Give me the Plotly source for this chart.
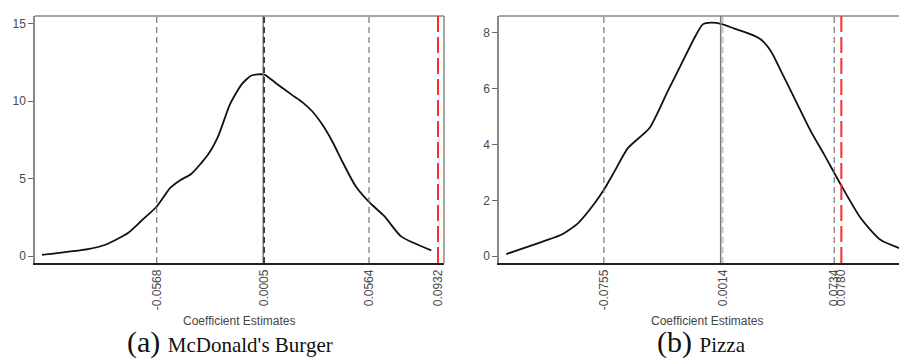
import plotly.graph_objects as go

# ---- Panel (a) McDonald's Burger ----
burger_x = [-0.1180, -0.0934, -0.0842, -0.0721, -0.0651, -0.0568, -0.0496, -0.0443, -0.0384,
            -0.0294, -0.0240, -0.0178, -0.0116, -0.0063, 0.0005, 0.0066, 0.0155, 0.0208,
            0.0261, 0.0315, 0.0368, 0.0421, 0.0493, 0.0564, 0.0646, 0.0735, 0.0896]
burger_y = [0.08, 0.45, 0.73, 1.49, 2.26, 3.20, 4.40, 4.90, 5.30,
            6.55, 7.74, 9.78, 11.07, 11.66, 11.72, 11.18, 10.39, 9.94,
            9.35, 8.49, 7.41, 6.12, 4.50, 3.49, 2.57, 1.27, 0.37]
burger_ci = [-0.0568, 0.0564]
burger_mean = 0.0005
burger_actual = 0.0932
burger_ticks = [-0.0568, 0.0005, 0.0564, 0.0932]
burger_ticktext = ["-0.0568", "0.0005", "0.0564", "0.0932"]
burger_yticks = [0, 5, 10, 15]

# ---- Panel (b) Pizza ----
pizza_x = [-0.1386, -0.1202, -0.1031, -0.0923, -0.0815, -0.0755, -0.0686, -0.0600, -0.0460,
           -0.0342, -0.0256, -0.0169, -0.0116, -0.0062, 0.0002, 0.0088, 0.0196, 0.0260,
           0.0325, 0.0390, 0.0497, 0.0583, 0.0670, 0.0777, 0.0906, 0.1035, 0.1219]
pizza_y = [0.08, 0.43, 0.77, 1.18, 1.90, 2.38, 3.04, 3.87, 4.59,
           5.91, 6.86, 7.82, 8.30, 8.36, 8.32, 8.15, 7.94, 7.76,
           7.34, 6.63, 5.43, 4.47, 3.63, 2.56, 1.36, 0.58, 0.17]
pizza_ci = [-0.0755, 0.0734]
pizza_mean = 0.0014
pizza_actual = 0.0780
pizza_ticks = [-0.0755, 0.0014, 0.0734, 0.0780]
pizza_ticktext = ["-0.0755", "0.0014", "0.0734", "0.0780"]
pizza_yticks = [0, 2, 4, 6, 8]

zero_line = 0.0
x_title = "Coefficient Estimates"
captions = [("(a)", "McDonald's Burger"), ("(b)", "Pizza")]

W, H = 907, 362
def px_x(p):
    return p / W
def px_y(p):
    return 1 - p / H

dom1 = [px_x(27), px_x(436)]
dom2 = [px_x(491), px_x(906.5)]
ydom = [px_y(255), px_y(8)]

fig = go.Figure()
fig.add_trace(go.Scatter(x=burger_x, y=burger_y, mode="lines",
                         line=dict(color="#111111", width=1.8, shape="spline", smoothing=0.6),
                         xaxis="x", yaxis="y", showlegend=False, hoverinfo="skip"))
fig.add_trace(go.Scatter(x=pizza_x, y=pizza_y, mode="lines",
                         line=dict(color="#111111", width=1.8, shape="spline", smoothing=0.6),
                         xaxis="x2", yaxis="y2", showlegend=False, hoverinfo="skip"))

tickfont = dict(family="Liberation Sans, Arial, sans-serif", size=12, color="#4a4a4a")

common_x = dict(showgrid=False, zeroline=False, showline=True, linecolor="#222222", linewidth=1.5,
                ticks="", tickangle=-90, tickfont=tickfont, fixedrange=True)
common_y = dict(showgrid=False, zeroline=False, showline=True, linecolor="#888888", linewidth=1.5,
                ticks="outside", ticklen=5, tickcolor="#666666", tickfont=tickfont)

fig.update_layout(
    width=W, height=H, margin=dict(l=0, r=0, t=0, b=0),
    paper_bgcolor="white", plot_bgcolor="white",
    xaxis=dict(domain=dom1, range=[-0.1217, 0.0964], tickvals=burger_ticks, ticktext=burger_ticktext,
               anchor="y", **common_x),
    yaxis=dict(domain=ydom, range=[-0.45, 15.5], tickvals=burger_yticks, anchor="x", **common_y),
    xaxis2=dict(domain=dom2, range=[-0.1433, 0.1253], tickvals=pizza_ticks, ticktext=pizza_ticktext,
                anchor="y2", **common_x),
    yaxis2=dict(domain=ydom, range=[-0.24, 8.6], tickvals=pizza_yticks, anchor="x2", **common_y),
)

shapes = []
# frames (top and right edges in gray)
for xr, yr in [("x domain", "y domain"), ("x2 domain", "y2 domain")]:
    shapes.append(dict(type="line", xref=xr, yref=yr, x0=0, x1=1, y0=1, y1=1,
                       line=dict(color="#888888", width=1.5)))
    shapes.append(dict(type="line", xref=xr, yref=yr, x0=1, x1=1, y0=0, y1=1,
                       line=dict(color="#888888", width=1.5)))

def vlines(xr, yr, ci, mean, actual, mean_color):
    out = []
    out.append(dict(type="line", xref=xr, yref=yr, x0=zero_line, x1=zero_line, y0=0, y1=1,
                    line=dict(color="#777777", width=1.5)))
    for v in ci:
        out.append(dict(type="line", xref=xr, yref=yr, x0=v, x1=v, y0=0, y1=1,
                        line=dict(color="#777777", width=1.2, dash="6px,4px")))
    out.append(dict(type="line", xref=xr, yref=yr, x0=mean, x1=mean, y0=0, y1=1,
                    line=dict(color=mean_color, width=1.3, dash="6px,4px")))
    out.append(dict(type="line", xref=xr, yref=yr, x0=actual, x1=actual, y0=0, y1=1,
                    line=dict(color="#ff2a2a", width=2, dash="16px,5px")))
    return out

shapes += vlines("x", "y domain", burger_ci, burger_mean, burger_actual, "#111111")
shapes += vlines("x2", "y2 domain", pizza_ci, pizza_mean, pizza_actual, "#bbbbbb")
fig.update_layout(shapes=shapes)

annots = []
title_font = dict(family="Liberation Sans, Arial, sans-serif", size=12, color="#444444")
for cx in [(27 + 436) / 2, (491 + 907) / 2]:
    annots.append(dict(text=x_title, x=px_x(cx), y=px_y(313), xref="paper", yref="paper",
                       showarrow=False, xanchor="center", yanchor="middle", font=title_font))
for (lbl, name), cx in zip(captions, [222, 693]):
    annots.append(dict(text=f"{lbl} <span style='font-size:21px'>{name}</span>",
                       x=px_x(cx), y=px_y(334), xref="paper", yref="paper",
                       showarrow=False, xanchor="center", yanchor="middle",
                       font=dict(family="Liberation Serif, DejaVu Serif, serif", size=30, color="#111111")))
fig.update_layout(annotations=annots)

fig.write_html("out.html")
